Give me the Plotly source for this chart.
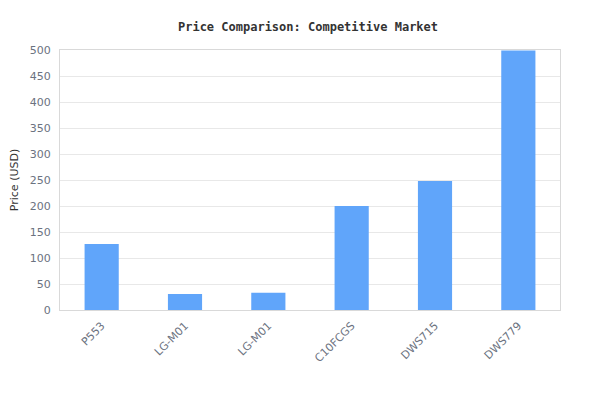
import plotly.graph_objects as go

models = ["P553", "LG-M01", "LG-M01", "C10FCGS", "DWS715", "DWS779"]
prices = [127, 31, 33, 200, 248, 499]
positions = list(range(len(models)))

fig = go.Figure(go.Bar(x=positions, y=prices,
                       marker=dict(color="#60a5fa", line=dict(width=0)),
                       hoverinfo="y"))

fig.update_layout(
    width=600, height=420,
    title=dict(text="<b>Price Comparison: Competitive Market</b>", x=0.5, y=0.965,
               font=dict(family="DejaVu Sans Mono", size=12, color="#333333")),
    margin=dict(l=52, r=48, t=42, b=118),
    paper_bgcolor="white", plot_bgcolor="white",
    bargap=0.59, showlegend=False,
    font=dict(family="DejaVu Sans", size=11, color="#6b7280"),
)
fig.update_xaxes(tickvals=positions, ticktext=models, tickangle=-45,
                 showline=True, linecolor="#d9d9d9", mirror=True,
                 showgrid=False, ticks="", ticklabelstandoff=4, automargin=False)
fig.update_yaxes(range=[0, 500], dtick=50, showline=True, linecolor="#d9d9d9",
                 mirror=True, gridcolor="#e8e8e8", zeroline=False,
                 ticklabelstandoff=6, automargin=False,
                 title=dict(text="Price (USD)", standoff=10,
                            font=dict(color="#333333", size=11)))

fig.write_html("out.html")
